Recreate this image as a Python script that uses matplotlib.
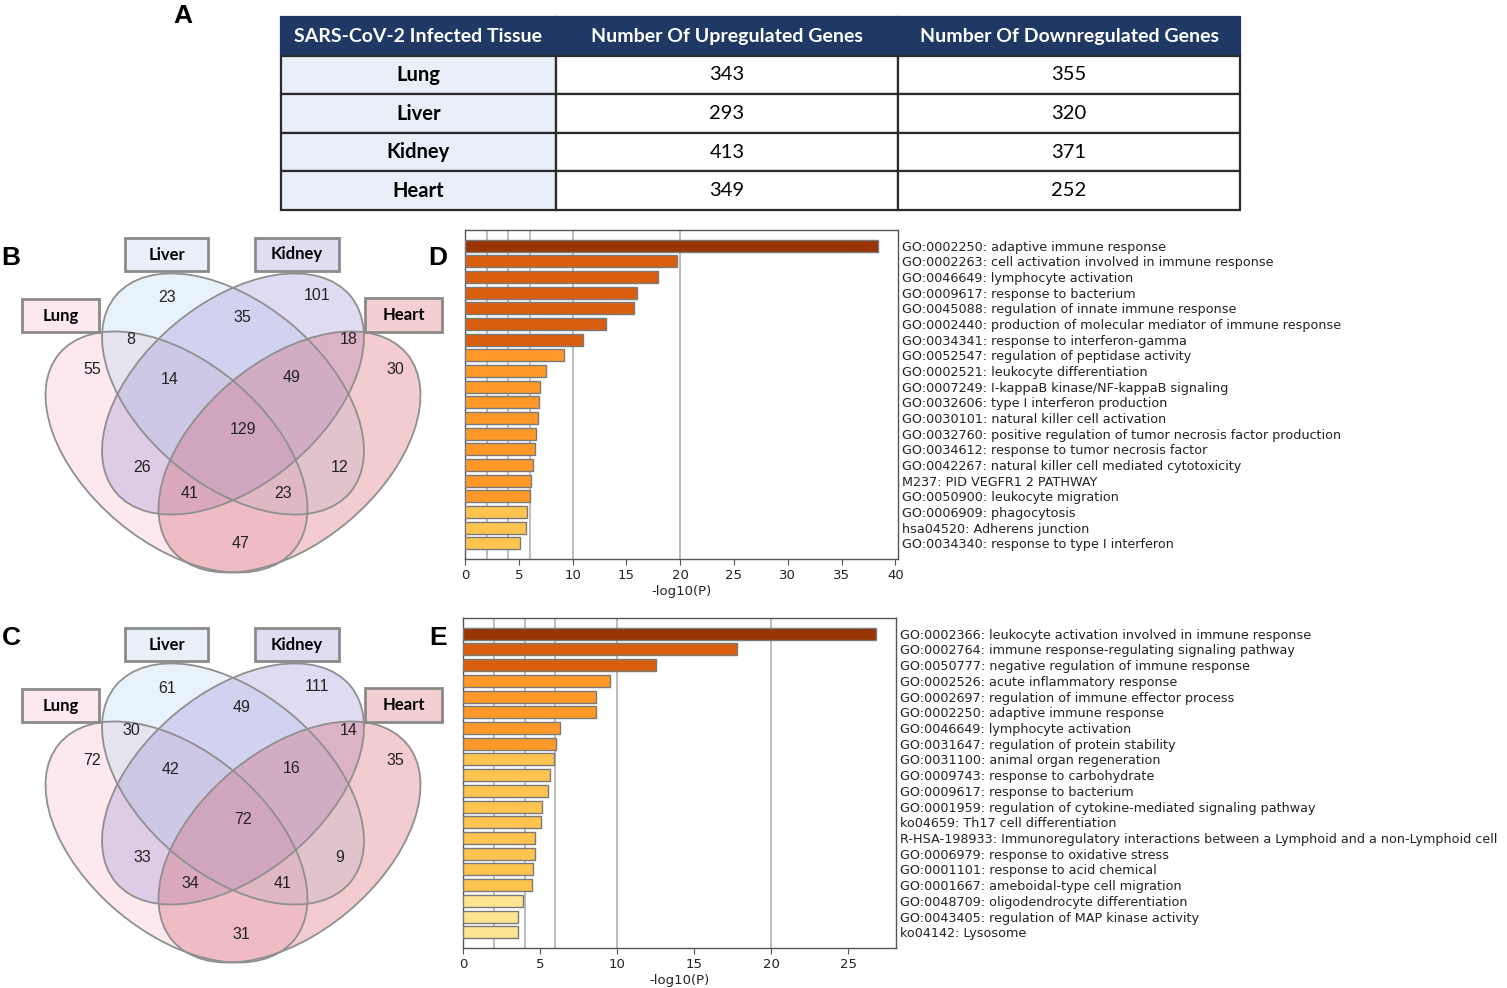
import numpy as np
import matplotlib
matplotlib.use('Agg')
import matplotlib.pyplot as plt
from matplotlib.patches import Ellipse, Rectangle

# ---- data ----
tissues = ['Lung', 'Liver', 'Kidney', 'Heart']
table_cols = ['SARS-CoV-2 Infected Tissue', 'Number Of Upregulated Genes', 'Number Of Downregulated Genes']
up_counts = [343, 293, 413, 349]
down_counts = [355, 320, 371, 252]

# venn regions: L=Lung, Li=Liver, K=Kidney, H=Heart
venn_regions = ['L', 'Li', 'K', 'H', 'L&Li', 'Li&K', 'K&H', 'L&Li&K', 'Li&K&H',
                'all', 'L&K', 'Li&H', 'L&K&H', 'L&Li&H', 'L&H']
venn_up = [55, 23, 101, 30, 8, 35, 18, 14, 49, 129, 26, 12, 41, 23, 47]
venn_down = [72, 61, 111, 35, 30, 49, 14, 42, 16, 72, 33, 9, 34, 41, 31]

terms_up = [
    'GO:0002250: adaptive immune response',
    'GO:0002263: cell activation involved in immune response',
    'GO:0046649: lymphocyte activation',
    'GO:0009617: response to bacterium',
    'GO:0045088: regulation of innate immune response',
    'GO:0002440: production of molecular mediator of immune response',
    'GO:0034341: response to interferon-gamma',
    'GO:0052547: regulation of peptidase activity',
    'GO:0002521: leukocyte differentiation',
    'GO:0007249: I-kappaB kinase/NF-kappaB signaling',
    'GO:0032606: type I interferon production',
    'GO:0030101: natural killer cell activation',
    'GO:0032760: positive regulation of tumor necrosis factor production',
    'GO:0034612: response to tumor necrosis factor',
    'GO:0042267: natural killer cell mediated cytotoxicity',
    'M237: PID VEGFR1 2 PATHWAY',
    'GO:0050900: leukocyte migration',
    'GO:0006909: phagocytosis',
    'hsa04520: Adherens junction',
    'GO:0034340: response to type I interferon',
]
logp_up = [38.36, 19.69, 17.92, 16.0, 15.69, 13.15, 11.0, 9.24, 7.53, 6.98,
           6.91, 6.82, 6.64, 6.54, 6.36, 6.11, 6.05, 5.77, 5.67, 5.15]

terms_down = [
    'GO:0002366: leukocyte activation involved in immune response',
    'GO:0002764: immune response-regulating signaling pathway',
    'GO:0050777: negative regulation of immune response',
    'GO:0002526: acute inflammatory response',
    'GO:0002697: regulation of immune effector process',
    'GO:0002250: adaptive immune response',
    'GO:0046649: lymphocyte activation',
    'GO:0031647: regulation of protein stability',
    'GO:0031100: animal organ regeneration',
    'GO:0009743: response to carbohydrate',
    'GO:0009617: response to bacterium',
    'GO:0001959: regulation of cytokine-mediated signaling pathway',
    'ko04659: Th17 cell differentiation',
    'R-HSA-198933: Immunoregulatory interactions between a Lymphoid and a non-Lymphoid cell',
    'GO:0006979: response to oxidative stress',
    'GO:0001101: response to acid chemical',
    'GO:0001667: ameboidal-type cell migration',
    'GO:0048709: oligodendrocyte differentiation',
    'GO:0043405: regulation of MAP kinase activity',
    'ko04142: Lysosome',
]
logp_down = [26.77, 17.78, 12.53, 9.55, 8.6, 8.6, 6.31, 6.05, 5.9, 5.62,
             5.51, 5.14, 5.08, 4.67, 4.67, 4.54, 4.49, 3.89, 3.59, 3.59]

# ---- layout / style ----
W, H = 1507, 988
fig = plt.figure(figsize=(W / 100, H / 100), dpi=100)


def px_axes(x0, y0, x1, y1):
    # axes from pixel box (y measured from the top)
    return fig.add_axes([x0 / W, 1 - y1 / H, (x1 - x0) / W, (y1 - y0) / H])


# panel letters
for letter, (lx, ly) in zip('ABCDE', [(183, 16), (11, 258), (11, 638), (438, 258), (438, 638)]):
    fig.text(lx / W, 1 - ly / H, letter, fontsize=19, fontweight='bold',
             family='Liberation Sans', ha='center', va='center')

# ---- A: table ----
ax_t = px_axes(281, 17, 1240, 210)
ax_t.axis('off')
cells = [[t, str(u), str(d)] for t, u, d in zip(tissues, up_counts, down_counts)]
tbl = ax_t.table(cellText=cells, colLabels=table_cols, cellLoc='center', colLoc='center',
                 colWidths=[275, 342, 342], bbox=[0, 0, 1, 1])
tbl.auto_set_font_size(False)
for (r, c), cell in tbl.get_celld().items():
    cell.set_edgecolor('#2b2b2b')
    cell.set_linewidth(1.6)
    txt = cell.get_text()
    txt.set_family('Lato')
    if r == 0:
        cell.set_facecolor('#203864')
        cell.set_edgecolor('#203864')
        txt.set_color('white')
        txt.set_fontweight('bold')
        txt.set_fontsize(14)
    else:
        cell.set_facecolor('#e9eff8' if c == 0 else 'white')
        txt.set_fontsize(14.5)
        if c == 0:
            txt.set_fontweight('bold')

# ---- B, C: venn diagrams ----
# ellipse geometry (local units, origin at the middle crossing)
ell_centres = [(-56.5, -58), (0, 0), (0, 0), (56.5, -58)]   # Lung, Liver, Kidney, Heart
ell_angles = [-40, -40, 40, 40]
ell_fills = ['#f8b6c6', '#b6d6f3', '#9b8ad4', '#d45862']
region_xy = [(-141, 24), (-66, 96), (84, 98), (162, 24), (-102, 54), (9, 77), (116, 54),
             (-63, 15), (59, 16), (10, -35), (-91, -73), (107, -73), (-43, -99), (50, -99),
             (8, -150)]
box_xy = [(-211, 62, 77, 33), (-108, 123, 83, 33), (22, 123, 84, 33), (132, 62, 77, 34)]
box_fills = ['#fde8ee', '#eaf0fa', '#e2dcf3', '#f3cfd1']


def draw_venn(ax, counts):
    ax.set_xlim(-233, 227)
    ax.set_ylim(-194, 166)
    ax.axis('off')
    for (cx, cy), ang, col in zip(ell_centres, ell_angles, ell_fills):
        ax.add_patch(Ellipse((cx, cy), 306, 182, angle=ang, facecolor=col,
                             alpha=0.3, edgecolor='none', zorder=1))
    for (cx, cy), ang in zip(ell_centres, ell_angles):
        ax.add_patch(Ellipse((cx, cy), 306, 182, angle=ang, facecolor='none',
                             edgecolor='#8f8f8f', lw=1.3, zorder=2))
    for (x, y), n in zip(region_xy, counts):
        ax.text(x, y, str(n), fontsize=11.5, family='Liberation Sans', color='#222222',
                ha='center', va='center', zorder=3)
    for name, (bx, by, bw, bh), col in zip(tissues, box_xy, box_fills):
        ax.add_patch(Rectangle((bx, by), bw, bh, facecolor=col, edgecolor='#8a8a8a',
                               lw=2, zorder=4))
        ax.text(bx + bw / 2, by + bh / 2, name, fontsize=12, fontweight='bold',
                family='Lato', ha='center', va='center', zorder=5)


draw_venn(px_axes(0, 228, 460, 588), venn_up)
draw_venn(px_axes(0, 618, 460, 978), venn_down)

# ---- D, E: enrichment bars ----
bin_edges = [4, 6, 10, 20]
bin_colours = ['#fee391', '#fec44f', '#fe9929', '#d95f0e', '#993404']
grid_at = [2, 4, 6, 10, 20]


def draw_bars(ax, terms, vals, xmax, xticks):
    y = np.arange(len(vals))
    cols = [bin_colours[np.digitize(v, bin_edges)] for v in vals]
    ax.barh(y, vals, height=0.77, color=cols, edgecolor='#7a7a7a', linewidth=1, zorder=3)
    for g in grid_at:
        ax.axvline(g, color='#b8b8b8', lw=1.3, zorder=1)
    ax.set_xlim(0, xmax)
    ax.set_ylim(len(vals), -1)
    ax.set_yticks(y)
    ax.set_yticklabels(terms)
    ax.yaxis.tick_right()
    ax.tick_params(axis='y', length=0, pad=3, labelsize=9.2, labelcolor='#222222')
    ax.set_xticks(xticks)
    ax.tick_params(axis='x', labelsize=9.5, length=4, color='#555555', labelcolor='#222222')
    ax.set_xlabel('-log10(P)', fontsize=9.5, color='#222222', labelpad=2)
    for s in ax.spines.values():
        s.set_color('#555555')
        s.set_linewidth(1)


draw_bars(px_axes(465, 230, 898, 559), terms_up, logp_up, 40.25, range(0, 41, 5))
draw_bars(px_axes(463, 618, 896, 948), terms_down, logp_down, 28.1, range(0, 26, 5))

fig.savefig('out.png', dpi=100)
